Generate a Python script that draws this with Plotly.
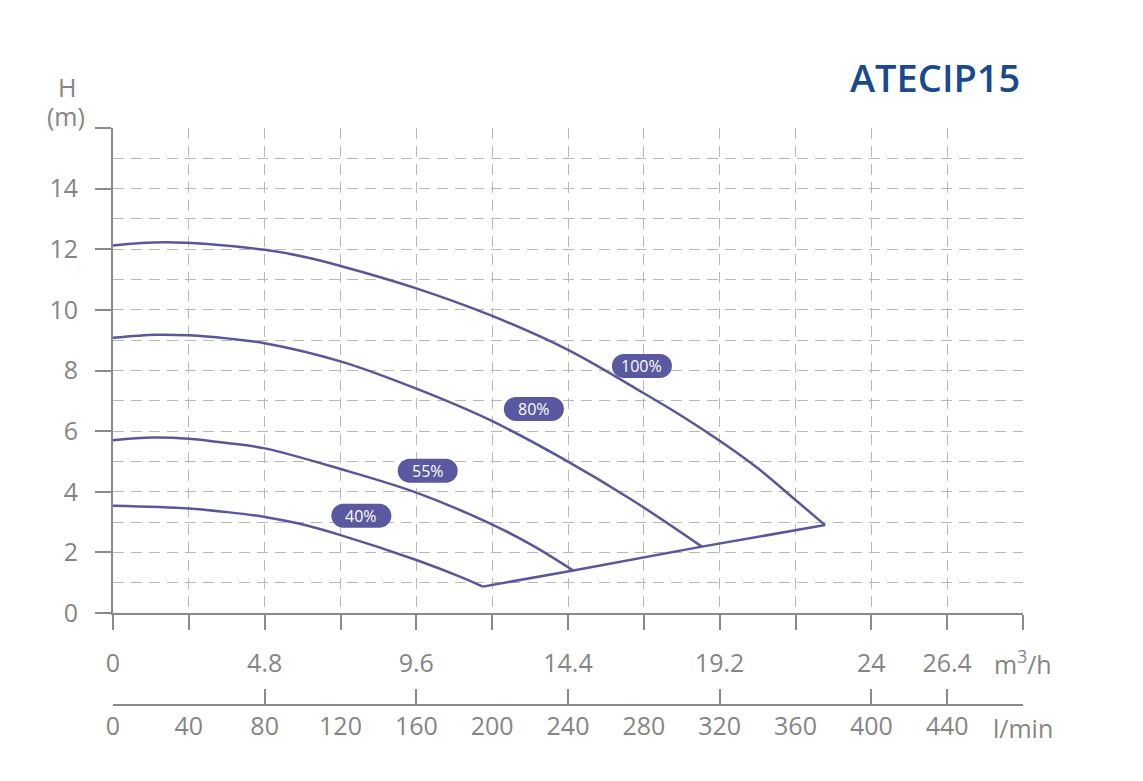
import plotly.graph_objects as go

# pump curves, flow in l/min, head in m
flow_100 = [0, 28, 80, 100, 120, 160, 200, 240, 280, 300, 320, 340, 360, 375.6]
head_100 = [12.12, 12.23, 11.98, 11.76, 11.45, 10.71, 9.8, 8.68, 7.25, 6.5, 5.68, 4.78, 3.73, 2.9]

flow_80 = [0, 23, 40, 60, 80, 120, 160, 199, 237, 274, 310.6]
head_80 = [9.08, 9.18, 9.16, 9.06, 8.9, 8.3, 7.4, 6.36, 5.1, 3.72, 2.19]

flow_55 = [0, 21, 40, 60, 80, 120, 160, 199, 221, 242.8]
head_55 = [5.7, 5.79, 5.75, 5.61, 5.43, 4.75, 3.97, 2.95, 2.24, 1.4]

flow_40 = [0, 40, 60, 80, 98, 120, 160, 183, 195]
head_40 = [3.54, 3.45, 3.33, 3.17, 2.95, 2.57, 1.75, 1.2, 0.87]

speed_labels = ["100%", "80%", "55%", "40%"]
label_flow = [279, 222, 166, 131]
label_head = [8.15, 6.73, 4.69, 3.21]

lmin_ticks = list(range(0, 481, 40))
m3h_vals = [0, 80, 160, 240, 320, 400, 440]
m3h_text = ["0", "4.8", "9.6", "14.4", "19.2", "24", "26.4"]
h_ticks = list(range(0, 17, 2))

curve_col = "#58579b"
pill_col = "#5a58a0"
txt_col = "#858585"
axis_col = "#8a8a8a"
grid_col = "#b8b8b8"
FONT = "Open Sans"

flows = [flow_100, flow_80, flow_55, flow_40]
heads = [head_100, head_80, head_55, head_40]

fig = go.Figure()
for f, h in zip(flows, heads):
    fig.add_trace(go.Scatter(x=f, y=h, mode="lines",
                             line=dict(color=curve_col, width=2.5, shape="spline"),
                             hoverinfo="skip", showlegend=False))

# line joining the end points of the curves
env_x = [f[-1] for f in flows][::-1]
env_y = [h[-1] for h in heads][::-1]
fig.add_trace(go.Scatter(x=env_x, y=env_y, mode="lines",
                         line=dict(color=curve_col, width=2.5),
                         hoverinfo="skip", showlegend=False))

# empty traces so the two lower axes get drawn
for ax in ["x2", "x3"]:
    fig.add_trace(go.Scatter(x=[0, 480], y=[None, None], xaxis=ax, yaxis="y",
                             mode="lines", hoverinfo="skip", showlegend=False))


def pill(w, h):
    r = h / 2
    a = w / 2 - r
    k = 0.5523 * r
    return (f"M{-a},{-r} L{a},{-r} C{a+k},{-r} {a+r},{-k} {a+r},0 "
            f"C{a+r},{k} {a+k},{r} {a},{r} L{-a},{r} "
            f"C{-a-k},{r} {-a-r},{k} {-a-r},0 C{-a-r},{-k} {-a-k},{-r} {-a},{-r} Z")


for lab, fx, fy in zip(speed_labels, label_flow, label_head):
    fig.add_shape(type="path", xref="x", yref="y", xsizemode="pixel", ysizemode="pixel",
                  xanchor=fx, yanchor=fy, path=pill(60, 24),
                  fillcolor=pill_col, line=dict(width=0), layer="above")
    fig.add_annotation(x=fx, y=fy, xref="x", yref="y", text=lab, showarrow=False,
                       xanchor="center", yanchor="middle",
                       font=dict(family=FONT, size=16, color="white"))

gridstyle = dict(showgrid=True, gridcolor=grid_col, gridwidth=1.3, griddash="11px,7px")

m3h_ticktext = [m3h_text[m3h_vals.index(v)] if v in m3h_vals else "" for v in lmin_ticks]

fig.update_layout(
    width=1143, height=781, autosize=False,
    margin=dict(l=113, r=120, t=128, b=76),
    plot_bgcolor="white", paper_bgcolor="white",
    font=dict(family=FONT, color=txt_col, size=25),
    xaxis=dict(range=[0, 480], tickmode="array", tickvals=lmin_ticks, ticktext=m3h_ticktext,
               ticks="outside", ticklen=15, tickwidth=2, tickcolor=axis_col,
               showline=True, linecolor=axis_col, linewidth=2, zeroline=False,
               ticklabelstandoff=12, anchor="y", **gridstyle),
    xaxis2=dict(range=[0, 480], overlaying="x", anchor="free", position=0,
                tickmode="array", tickvals=lmin_ticks[:-1],
                ticktext=[str(v) for v in lmin_ticks[:-1]],
                ticks="", showline=False, showgrid=False, zeroline=False,
                ticklabelstandoff=4),
    xaxis3=dict(range=[0, 480], overlaying="x", anchor="free", position=0,
                tickmode="array", tickvals=m3h_vals, showticklabels=False,
                ticks="inside", ticklen=15, tickwidth=2, tickcolor=axis_col,
                showline=True, linecolor=axis_col, linewidth=2,
                showgrid=False, zeroline=False),
    yaxis=dict(range=[0, 16], domain=[(705 - 613) / 577, 1], tickmode="array",
               tickvals=h_ticks, ticktext=[str(v) if v < 16 else "" for v in h_ticks],
               ticks="outside", ticklen=16, tickwidth=2, tickcolor=axis_col,
               showline=True, linecolor=axis_col, linewidth=2, zeroline=False,
               ticklabelstandoff=12,
               minor=dict(dtick=1, showgrid=True, gridcolor=grid_col, gridwidth=1.3,
                          griddash="11px,7px", ticks=""),
               **gridstyle),
)

fig.add_annotation(xref="paper", yref="paper", x=0.9989, y=1.088, xanchor="right",
                   yanchor="middle", text="ATECIP15", showarrow=False,
                   font=dict(family=FONT, size=38, color="#1a4a8b", weight=600))
fig.add_annotation(xref="paper", yref="paper", x=-0.0505, y=1.071, text="H",
                   xanchor="center", yanchor="middle", showarrow=False)
fig.add_annotation(xref="paper", yref="paper", x=-0.0516, y=1.021, text="(m)",
                   xanchor="center", yanchor="middle", showarrow=False)
fig.add_annotation(xref="x", yref="paper", x=480, y=0.0728, text="m<sup>3</sup>/h",
                   xanchor="center", yanchor="middle", showarrow=False)
fig.add_annotation(xref="x", yref="paper", x=480, y=-0.0399, text="l/min",
                   xanchor="center", yanchor="middle", showarrow=False)

fig.write_html("out.html", config={"displayModeBar": False},
               post_script="document.body.style.margin='0px';")
